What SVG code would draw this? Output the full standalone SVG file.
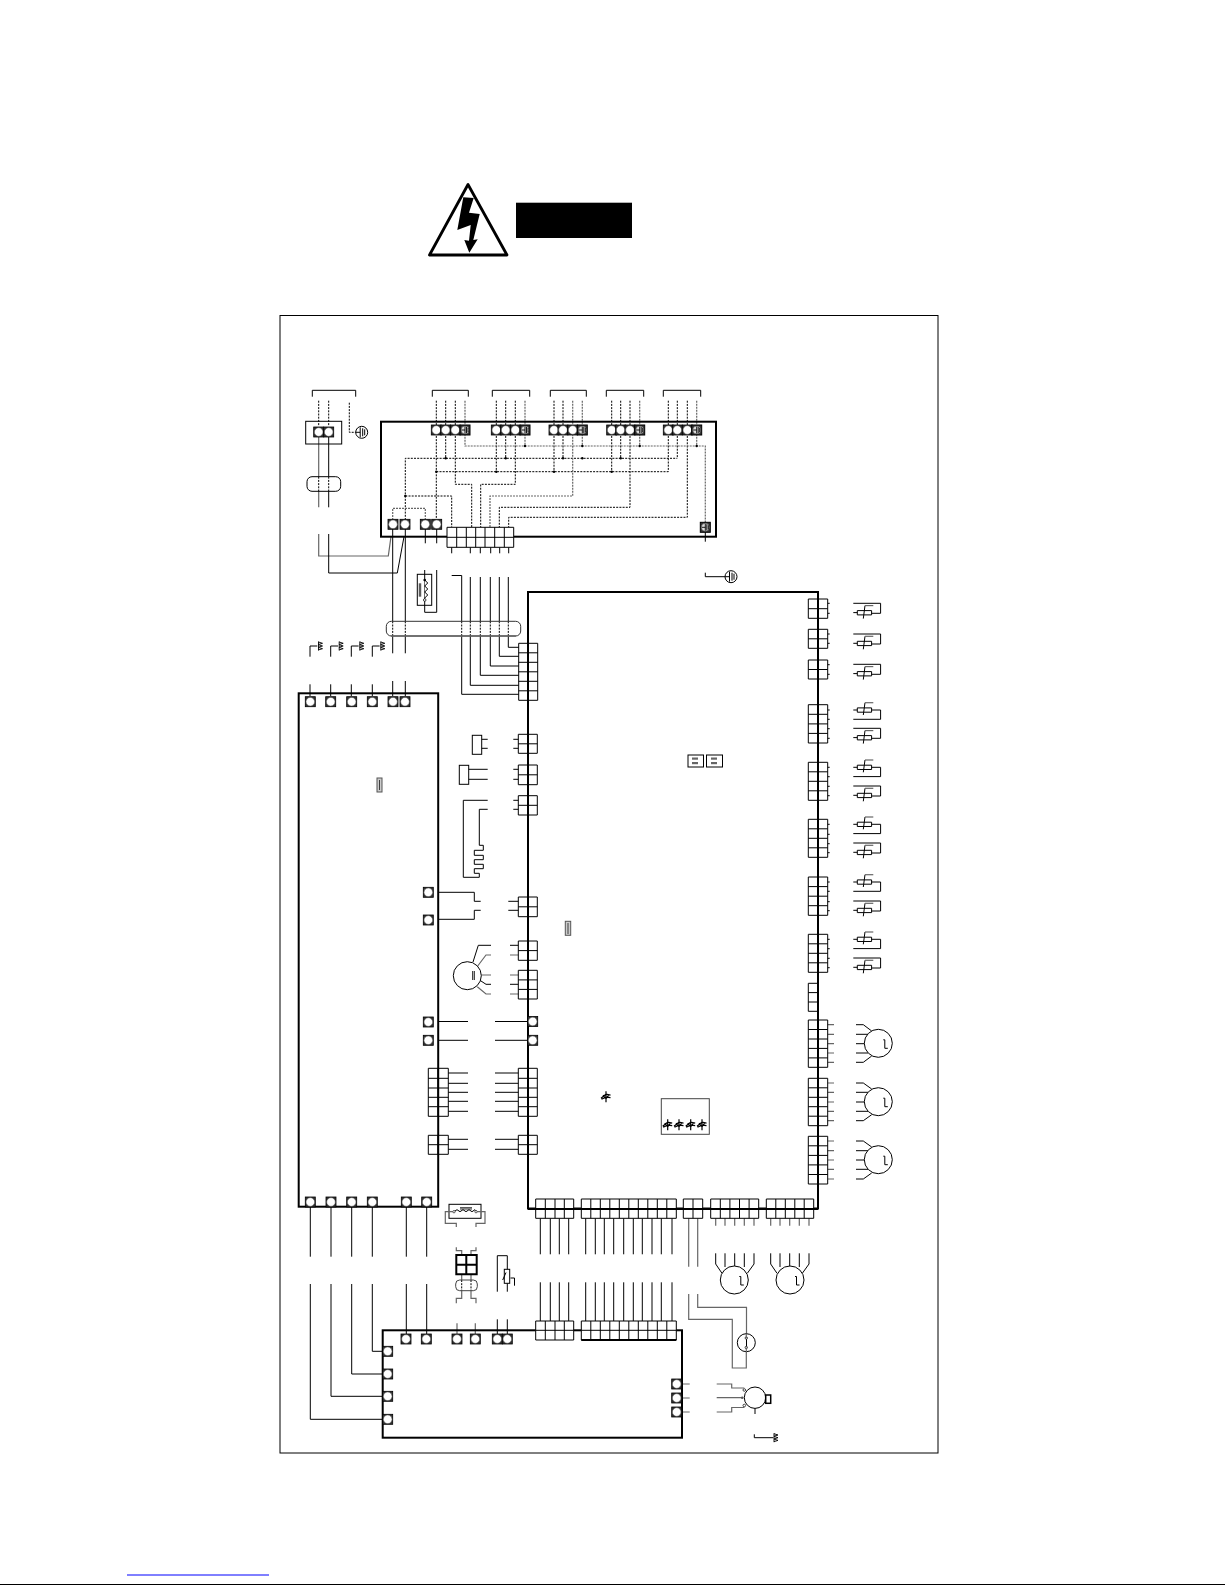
<svg xmlns="http://www.w3.org/2000/svg" width="1225" height="1585" viewBox="0 0 1225 1585">
<style>
.l{fill:none;stroke:#000;stroke-width:1}
.g{fill:none;stroke:#666;stroke-width:1.2}
.b{fill:none;stroke:#000;stroke-width:2}
.d{fill:none;stroke:#000;stroke-width:1;stroke-dasharray:2 1.2}
.dg{fill:none;stroke:#666;stroke-width:1.2;stroke-dasharray:2 1}
</style>
<defs>
<g id="t"><rect x="-5" y="-5" width="10" height="10" fill="#333" stroke="#000" stroke-width=".8"/><circle r="4.3" fill="#fff" stroke="#555" stroke-width=".5"/></g>
<g id="e"><rect x="-5" y="-5" width="10" height="10" fill="#333" stroke="#000" stroke-width="1"/><circle r="4" fill="#ddd" stroke="#333" stroke-width=".5"/><path d="M-3.500 0H0M0-3.500V3.500M1.500-3V3M3-2V2" stroke="#000" stroke-width=".9"/></g>
<g id="ea"><circle r="6" fill="#fff" stroke="#000" stroke-width="1"/><path d="M-6 0H-1.500M-1.500-5V5M1-4V4M3-3V3" class="l"/></g>
<path id="gnd" d="M0-4.500V4.500M0-4l4 1.300-4 1.200M0-1.300l4 1.300-4 1.200M0 1.400l4 1.300-4 1.200" fill="none" stroke="#000" stroke-width=".9"/>
<path id="st" d="M0-5.500V5.500M-5 1.500L0-2.500 4.500-1.500M-4.500 2.500L0 .5 4.500 1M-3-1.500L0 2 3-2" fill="none" stroke="#000" stroke-width="1.200"/>
<g id="m"><circle r="14" fill="#fff" stroke="#000" stroke-width="1"/><path d="M5-3.500h1.500v8.500h3" class="l"/></g>
<g id="ta"><path d="M0 0H27.300V10H18.300M0 9.300H4M4 7.300h14.300v4.300H4zM10 15.300L11.700 2.300" class="l"/><path d="M11.700 2.300H20" class="g"/></g>
<g id="tb"><path d="M0 0H4M4-2.100h14.300v4.300H4zM18.300 0H27.300V9.300H0M10 5L11.700-7.300" class="l"/><path d="M11.700-7.300H20" class="g"/></g>
</defs>
<rect width="1225" height="1585" fill="#fff"/>

<g id="warning">
<path d="M468 184.500L429.500 255H507Z" fill="#fff" stroke="#000" stroke-width="2.800" stroke-linejoin="round"/>
<path d="M463.300 197.300L473.700 198 469 212.700 479.700 214 473.300 240 477.700 239.300 469.300 252.700 464.300 240 469 240.700 470.700 225 457.300 230Z" fill="#000"/>
<rect x="516" y="202.700" width="116" height="35.300" fill="#000"/>
</g>
<rect id="frame" x="280" y="315.500" width="658" height="1137.500" class="l"/>

<g id="connectors">
<path d="M312.300 396.700V390.300H355.700V396.700M432.300 396.700V390.300H468.300V396.700M492.300 396.700V390.300H529.700V396.700M550.300 396.700V390.300H586.300V396.700M606.300 396.700V390.300H643.700V396.700M663.300 396.700V390.300H700.700V396.700" class="l"/>
<path d="M318.700 400.700V426M328.700 400.700V426M349.300 402.700V432.300H356" class="d"/>
<path d="M436.300 400.700V519M445.700 400.700V458.300M455.300 400.700V484.300H471.700V527.300M496.300 400.700V471.700M505.700 400.700V458.300M515.300 400.700V484.300H480.700V527.300M554 400.700V471.700M563 400.700V458.300M611.700 400.700V471.700M620.700 400.700V458.300M630 400.700V507.300H499.300V527.300M668.300 400.700V471.700M677.300 400.700V458.300M687.300 400.700V517.300H508.700V527.300M405.300 520V458.300H677.300M436.300 471.700H668.300M405.300 496H451.700V527.300" class="d"/>
<path d="M465 400.700V446H705.300V522.700M525 400.700V446M582.300 400.700V446M639.700 400.700V446M696.700 400.700V446M572.700 400.700V496H490V527.300M392.700 520V508.300H425.300V520" class="dg"/>
<g fill="#000"><circle cx="445.700" cy="458.300" r="1.200"/><circle cx="505.700" cy="458.300" r="1.200"/><circle cx="563" cy="458.300" r="1.200"/><circle cx="582.300" cy="458.300" r="1.200"/><circle cx="620.700" cy="458.300" r="1.200"/><circle cx="436.300" cy="471.700" r="1.200"/><circle cx="496.300" cy="471.700" r="1.200"/><circle cx="554" cy="471.700" r="1.200"/><circle cx="611.700" cy="471.700" r="1.200"/><circle cx="525" cy="446" r="1.200"/><circle cx="582.300" cy="446" r="1.200"/><circle cx="639.700" cy="446" r="1.200"/><circle cx="696.700" cy="446" r="1.200"/><circle cx="405.300" cy="496" r="1.200"/></g>

<path d="M318.700 437V476.700M318.700 491.300V507.300M318.700 534V556H388.300L391 536.700" class="g"/>
<path d="M328.700 437V476.700M328.700 491.300V507.300M328.700 534V573H397.300L404 536.700" class="l"/>
<path d="M318.700 476.700V491.300M328.700 476.700V491.300" class="d"/>
<path d="M392.700 529V621.300M392.700 636V653.300M392.700 681V696M405.300 529V621.300M405.300 636V653.300M405.300 681V696M425.300 529V543.300M436.700 529V543.300M705.300 532V541.700M705.300 572.700V576.700H725" class="l"/>
<path d="M451.700 547.300V553.300M470.300 547.300V553.300M480.300 547.300V553.300M490.700 547.300V553.300M499.700 547.300V553.300M508.700 547.300V553.300" class="l"/>
<path d="M451.700 575.500H461.700V621.300M461.700 636V694.300H518.700M470.300 577V621.300M470.300 636V685.300H518.700M480.300 577V621.300M480.300 636V675.300H518.700M490.300 577V621.300M490.300 636V666H518.700M499.300 577V621.300M499.300 636V656.300H518.700M508.300 577V621.300M508.300 636V647.300H518.700" class="l"/>
<path d="M392.700 621.300V636M405.300 621.300V636M461.700 621.300V636M470.300 621.300V636M480.300 621.300V636M490.300 621.300V636M499.300 621.300V636M508.300 621.300V636" class="d"/>
<path d="M310 656.700V646H317.300M330.700 656.700V646H338M351.300 656.700V646H358.600M372.300 656.700V646H379.600M310 684.300V696M330.700 684.300V696M351.300 684.300V696M372.300 684.300V696" class="l"/>

<path d="M513.300 739.300H518.300M513.300 748.300H518.300M481.700 739.300H487.700M481.700 748.300H487.700M513.300 769.300H518.300M513.300 779.300H518.300M468.700 769.300H487.700M468.700 779.300H487.700M513.300 800.300H518.300M513.300 809.300H518.300" class="l"/>
<path d="M487.700 800.300H463.300V877.300H479.300V873.300H474.300V868.700H483.300V864.300H474.300V859.700H483.300V855.300H474.300V850.300H483.300V845.300H479.300V809.300H487.700" class="l"/>
<path d="M438 892.300H474.300V901.300H480.700M438 919.300H474.300V910.300H480.700M508.300 901.300H518.300M508.300 910.300H518.300" class="l"/>
<path d="M491 945.300H478.300L473 962M491 984.300H486L479.500 980M510 945.300H518.300M510 984.300H518.300" class="l"/>
<path d="M491 955H486L477.700 966M491 975H481.300M491 994H486L477.300 986.700M510 955H518.300M510 975H518.300M510 994H518.300" class="g"/>

<path d="M438 1021.500H468M495 1021.500H528M438 1040.300H468M495 1040.300H528M448.300 1073H468M448.300 1083.300H468M448.300 1092.300H468M448.300 1101.300H468M448.300 1111.300H468M495 1073H518.300M495 1083.300H518.300M495 1092.300H518.300M495 1101.300H518.300M495 1111.300H518.300M448.300 1139.300H468M448.300 1149.300H468M495 1139.300H518.300M495 1149.300H518.300" class="l"/>

<path d="M827.700 603.300H829.700M827.700 613.300H829.700M827.700 634H829.700M827.700 643.300H829.700M827.700 664.700H829.700M827.700 674.300H829.700M827.700 710H829.700M827.700 719.300H829.700M827.700 728.700H829.700M827.700 738.300H829.700M827.700 767.300H829.700M827.700 776.700H829.700M827.700 786.300H829.700M827.700 795.700H829.700M827.700 824.300H829.700M827.700 834.300H829.700M827.700 843.700H829.700M827.700 852.700H829.700M827.700 882H829.700M827.700 891.300H829.700M827.700 901.700H829.700M827.700 910.700H829.700M827.700 939.300H829.700M827.700 948.700H829.700M827.700 958.300H829.700M827.700 967.700H829.700" class="l"/>
<path d="M827.700 1024.700H834M827.700 1034.300H834M827.700 1043.700H834M827.700 1053H834M827.700 1062.300H834M827.700 1083H834M827.700 1092.300H834M827.700 1102H834M827.700 1111.300H834M827.700 1120.700H834M827.700 1141H834M827.700 1150.700H834M827.700 1160H834M827.700 1169.300H834M827.700 1179H834" class="g"/>
<path d="M856 1024.700H863.300L871.700 1031M856 1034.300H868M856 1043.700H865M856 1053H868M856 1062.300H863.300L871.700 1056M856 1083H863.300L871.700 1089M856 1092.300H868M856 1102H865M856 1111.300H868M856 1120.700H863.300L871.700 1114.700M856 1141H863.300L871.700 1147M856 1150.700H868M856 1160H865M856 1169.300H868M856 1179H863.300L871.700 1173" class="l"/>

<path d="M540.300 1218.300V1254.300M550.300 1218.300V1254.300M559.300 1218.300V1254.300M568.700 1218.300V1254.300M585.700 1218.300V1254.300M595.300 1218.300V1254.300M604.300 1218.300V1254.300M613.700 1218.300V1254.300M623.700 1218.300V1254.300M633.300 1218.300V1254.300M642.300 1218.300V1254.300M652 1218.300V1254.300M661.300 1218.300V1254.300M672 1218.300V1254.300M540.300 1282.300V1321M550.300 1282.300V1321M559.300 1282.300V1321M568.700 1282.300V1321M585.700 1282.300V1321M595.300 1282.300V1321M604.300 1282.300V1321M613.700 1282.300V1321M623.700 1282.300V1321M633.300 1282.300V1321M642.300 1282.300V1321M652 1282.300V1321M661.300 1282.300V1321M672 1282.300V1321" class="l"/>
<path d="M688.700 1218.300V1266.700M697.700 1218.300V1266.700M688.700 1294V1319.300H732.300V1368H746.300V1352M697.700 1294V1307.300H746.500V1334" class="g"/>
<path d="M715.700 1218.300V1225.700M725 1218.300V1225.700M734.700 1218.300V1225.700M744.300 1218.300V1225.700M754 1218.300V1225.700M770.700 1218.300V1225.700M780 1218.300V1225.700M789.700 1218.300V1225.700M799.300 1218.300V1225.700M809 1218.300V1225.700" class="g"/>
<path d="M715.700 1253.300V1264L722 1273.300M725 1253.300V1267M734.700 1253.300V1266M744.300 1253.300V1267M754 1253.300V1264L747.300 1273.300M770.700 1253.300V1264L777 1273.300M780 1253.300V1267M789.700 1253.300V1266M799.300 1253.300V1267M809 1253.300V1264L802.300 1273.300" class="l"/>

<path d="M310.300 1206.700V1256.700M331 1206.700V1256.700M351.700 1206.700V1256.700M372.300 1206.700V1256.700M406.300 1206.700V1256.700M426.700 1206.700V1256.700" class="l"/>
<path d="M310.300 1284V1419.300H382.700M331 1284V1396.300H382.700M351.700 1284V1374H382.700M372.300 1284V1351.300H382.700M406.300 1284V1334M426.700 1284V1334" class="l"/>
<path d="M457 1323.300V1334M475.300 1323.300V1334" class="g"/>
<path d="M497.300 1319.300V1334M507.300 1319.300V1334" class="l"/>
<path d="M461.700 1255V1250.700H456.300V1247.300M471 1255V1250.700H476V1247.300M461.700 1274V1280M471 1274V1280" class="g"/>
<path d="M461.700 1280V1290.700M471 1280V1290.700" class="d"/>
<path d="M461.700 1290.700V1298.300H456.300V1303.300M471 1290.700V1298.300H476V1303.300" class="g"/>
<path d="M497.300 1291.700V1255.700H507.300V1269.300M507.300 1283.300V1291.700" class="l"/>
<path d="M682 1384H689.700M682 1398H689.700M682 1412H689.700" class="g"/>
<path d="M716.700 1384H731.700V1388H744.300M716.700 1397.700H742.300M716.700 1412H731.700V1407.500H744.300" class="g"/>
<path d="M755 1408V1414M754.300 1434.300V1437.700H773.300" class="l"/>
</g>

<g id="main-board"><rect x="528" y="592" width="290" height="616.500" class="b"/>
<rect x="565.300" y="921.300" width="5.400" height="14" fill="#ccc" stroke="#555"/><path d="M568 923V934" stroke="#000" stroke-width=".7"/>
<rect x="688" y="755" width="15.500" height="12" class="l"/><rect x="692" y="757.500" width="6" height="2.200" fill="#666"/><rect x="692" y="762" width="6" height="2.200" fill="#666"/>
<rect x="706.500" y="755" width="16" height="12" class="l"/><rect x="711" y="757.500" width="6" height="2.200" fill="#666"/><rect x="711" y="762" width="6" height="2.200" fill="#666"/>
<use href="#st" x="606" y="1096.700"/>
<rect x="661.300" y="1098.700" width="48" height="35.600" fill="none" stroke="#444"/>
<use href="#st" x="667.700" y="1124.700"/><use href="#st" x="679" y="1124.700"/><use href="#st" x="690.700" y="1124.700"/><use href="#st" x="702" y="1124.700"/>
<use href="#t" x="532.700" y="1021.500"/><use href="#t" x="532.700" y="1040.300"/>
</g>

<g id="left-board"><rect x="298.700" y="693.300" width="139.500" height="513.400" class="b"/>
<rect x="377" y="778" width="5" height="14" fill="#ccc" stroke="#555"/><path d="M379.500 780V790" stroke="#000" stroke-width=".7"/>
<use href="#t" x="310.300" y="701.700"/><use href="#t" x="330.700" y="701.700"/><use href="#t" x="351.700" y="701.700"/><use href="#t" x="372.300" y="701.700"/><use href="#t" x="393" y="701.700"/><use href="#t" x="405" y="701.700"/>
<use href="#t" x="428.300" y="892.300"/><use href="#t" x="428.300" y="920"/><use href="#t" x="428.300" y="1022"/><use href="#t" x="428.300" y="1040.300"/>
<use href="#t" x="310.300" y="1202"/><use href="#t" x="331" y="1202"/><use href="#t" x="351.700" y="1202"/><use href="#t" x="372.300" y="1202"/><use href="#t" x="406.300" y="1202"/><use href="#t" x="426.700" y="1202"/>
<path d="M428.300 1068.300h20v48h-20zM438 1068.300v48M428.300 1078.300h20M428.300 1088h20M428.300 1097.300h20M428.300 1106.700h20M428.300 1135.300h20v19h-20zM438 1135.300v19M428.300 1144.700h20" class="l"/>
</g>

<g id="top-board"><rect x="381" y="421.700" width="335" height="115" class="b"/>
<use href="#t" x="436.300" y="430"/><use href="#t" x="445.700" y="430"/><use href="#t" x="455.300" y="430"/><use href="#e" x="465" y="430"/>
<use href="#t" x="496.300" y="430"/><use href="#t" x="505.700" y="430"/><use href="#t" x="515.300" y="430"/><use href="#e" x="525" y="430"/>
<use href="#t" x="554" y="430"/><use href="#t" x="563" y="430"/><use href="#t" x="572.700" y="430"/><use href="#e" x="582.300" y="430"/>
<use href="#t" x="611.700" y="430"/><use href="#t" x="620.700" y="430"/><use href="#t" x="630" y="430"/><use href="#e" x="639.700" y="430"/>
<use href="#t" x="668.300" y="430"/><use href="#t" x="677.300" y="430"/><use href="#t" x="687.300" y="430"/><use href="#e" x="696.700" y="430"/>
<use href="#t" x="393" y="524.300"/><use href="#t" x="405" y="524.300"/><use href="#t" x="425.300" y="524.300"/><use href="#t" x="436.700" y="524.300"/><use href="#e" x="705.300" y="527.300"/>
<path d="M447 527.300h66.700v20H447zM447 537.300h66.700M456.700 527.300v20M466.300 527.300v20M475.700 527.300v20M485 527.300v20M494.700 527.300v20M504.300 527.300v20" fill="#fff" stroke="#000"/>
</g>

<g id="input-block"><rect x="305.700" y="421.300" width="36" height="22.700" class="l" stroke-width="1.600"/><use href="#t" x="318.700" y="432"/><use href="#t" x="328.700" y="432"/><use href="#ea" x="361.700" y="432.300"/>
<rect x="307" y="476.700" width="33.700" height="14.600" rx="5" class="l"/></g>
<g id="earth-top"><use href="#ea" x="731" y="576.700"/></g>
<g id="earths"><use href="#gnd" x="318.500" y="646"/><use href="#gnd" x="339.200" y="646"/><use href="#gnd" x="359.800" y="646"/><use href="#gnd" x="380.800" y="646"/><use href="#gnd" x="774" y="1437.700"/></g>
<g id="bundle"><rect x="386.300" y="621.300" width="134.400" height="14.700" rx="5" fill="none" stroke="#333"/><path d="M391 636H516" stroke="#666" stroke-width="1.300"/></g>
<g id="transformer-top"><rect x="417.300" y="574.300" width="14.400" height="31" class="l"/><path d="M424.700 570V612.300H436.700V570" class="l"/><path d="M419.300 583.300V596.700M420.700 583.300V596.700" stroke="#000" stroke-width=".8"/><path d="M424.700 580l3 3-3 3 3 3-3 3 3 3-3 3" fill="#fff" stroke="#000" stroke-width="1"/><circle cx="424.700" cy="580" r="1.300" fill="#000"/><circle cx="424.700" cy="600" r="1.300" fill="#fff" stroke="#000" stroke-width=".7"/></g>

<g id="left-connectors">
<path d="M518.700 643.300h19v57h-19zM518.700 652.800h19M518.700 662.300h19M518.700 671.800h19M518.700 681.300h19M518.700 690.800h19" class="l"/>
<path d="M518.300 734.300h19v19h-19zM518.300 743.800h19M518.300 765h19v19.700h-19zM518.300 774.800h19M518.300 795.700h19v19.300h-19zM518.300 805.300h19M518.300 897h19v19.700h-19zM518.300 906.800h19M518.300 941h19v19.300h-19zM518.300 950.600h19M518.300 970.300h19v28.700h-19zM518.300 979.900h19M518.300 989.400h19M518.300 1068.300h19v48h-19zM518.300 1078.300h19M518.300 1088h19M518.300 1097.300h19M518.300 1106.700h19M518.300 1135.300h19v19h-19zM518.300 1144.700h19" class="l"/>
</g>
<g id="sensors-left"><rect x="472.300" y="735.300" width="9.400" height="19" class="l"/><rect x="459.300" y="765.300" width="9.400" height="19" class="l"/></g>
<g id="motor-left"><circle cx="467.300" cy="975.700" r="14" fill="#fff" stroke="#000"/><path d="M472.700 971V980M474.300 971V980" stroke="#000" stroke-width=".9"/></g>

<g id="right-connectors">
<path d="M808.300 599h19.400v19.300h-19.400zM808.300 608.700h19.400M808.300 629.300h19.400v19h-19.400zM808.300 638.800h19.400M808.300 660h19.400v19h-19.400zM808.300 669.500h19.400" class="l"/>
<path d="M808.300 704.700h19.400v38.300h-19.400zM808.300 714.300h19.400M808.300 723.900h19.400M808.300 733.400h19.400M808.300 762.300h19.400v38h-19.400zM808.300 771.800h19.400M808.300 781.300h19.400M808.300 790.800h19.400M808.300 819.300h19.400v38h-19.400zM808.300 828.800h19.400M808.300 838.300h19.400M808.300 847.800h19.400M808.300 877h19.400v38.300h-19.400zM808.300 886.600h19.400M808.300 896.200h19.400M808.300 905.700h19.400M808.300 934.300h19.400v38h-19.400zM808.300 943.800h19.400M808.300 953.300h19.400M808.300 962.800h19.400" class="l"/>
<path d="M808.300 983.300h9.700v28h-9.700zM808.300 992.600h9.700M808.300 1002h9.700" class="l"/>
<path d="M808.300 1020h19.400v47.300h-19.400zM808.300 1029.500h19.400M808.300 1039h19.400M808.300 1048.400h19.400M808.300 1057.900h19.400M808.300 1078.300h19.400v47.400h-19.400zM808.300 1087.800h19.400M808.300 1097.300h19.400M808.300 1106.700h19.400M808.300 1116.200h19.400M808.300 1136.300h19.400v47.700h-19.400zM808.300 1145.800h19.400M808.300 1155.400h19.400M808.300 1164.900h19.400M808.300 1174.500h19.400" class="l"/>
</g>
<g id="right-sensors">
<use href="#ta" x="853.300" y="603.300"/><use href="#ta" x="853.300" y="634"/><use href="#ta" x="853.300" y="664.300"/><use href="#ta" x="853.300" y="728.300"/><use href="#ta" x="853.300" y="786"/><use href="#ta" x="853.300" y="843"/><use href="#ta" x="853.300" y="901"/><use href="#ta" x="853.300" y="958"/>
<use href="#tb" x="853.300" y="710"/><use href="#tb" x="853.300" y="767.300"/><use href="#tb" x="853.300" y="824.300"/><use href="#tb" x="853.300" y="882"/><use href="#tb" x="853.300" y="939.300"/>
</g>
<g id="motors"><use href="#m" x="878.300" y="1043.300"/><use href="#m" x="878.300" y="1101.700"/><use href="#m" x="878.300" y="1159.700"/><use href="#m" x="734.300" y="1280"/><use href="#m" x="790" y="1280"/></g>

<g id="bottom-connectors">
<path d="M535.700 1199h38v19.300h-38zM535.700 1209h38M545.300 1199v19.300M555 1199v19.300M564.300 1199v19.300" fill="#fff" stroke="#000"/>
<path d="M581.300 1199h95v19.300h-95zM581.300 1209h95M590.800 1199v19.300M600.300 1199v19.300M609.800 1199v19.300M619.300 1199v19.300M628.800 1199v19.300M638.300 1199v19.300M647.800 1199v19.300M657.300 1199v19.300M666.800 1199v19.300" fill="#fff" stroke="#000"/>
<path d="M683.300 1199h19.400v19.300h-19.400zM683.300 1209h19.400M693 1199v19.300" fill="#fff" stroke="#000"/>
<path d="M710.700 1199h48v19.300h-48zM710.700 1209h48M720.300 1199v19.300M729.900 1199v19.300M739.500 1199v19.300M749.100 1199v19.300" fill="#fff" stroke="#000"/>
<path d="M766.300 1199h47.400v19.300h-47.400zM766.300 1209h47.400M775.800 1199v19.300M785.300 1199v19.300M794.800 1199v19.300M804.200 1199v19.300" fill="#fff" stroke="#000"/>
<path d="M528 1209H818" class="b"/>
</g>

<g id="bottom-board"><rect x="382.700" y="1330.300" width="299.300" height="107.400" class="b" stroke-width="1.600"/>
<use href="#t" x="406" y="1339"/><use href="#t" x="426.300" y="1339"/><use href="#t" x="457" y="1339"/><use href="#t" x="475.300" y="1339"/><use href="#t" x="497.300" y="1339"/><use href="#t" x="507.300" y="1339"/>
<use href="#t" x="387.700" y="1351.300"/><use href="#t" x="387.700" y="1374"/><use href="#t" x="387.700" y="1396.300"/><use href="#t" x="387.700" y="1419.300"/>
<use href="#t" x="676.700" y="1384"/><use href="#t" x="676.700" y="1398"/><use href="#t" x="676.700" y="1412"/>
<path d="M535.700 1321h38v19h-38zM545.300 1321v19M555 1321v19M564.300 1321v19M535.700 1330.300h38" fill="#fff" stroke="#000"/>
<path d="M581.300 1321h95v19h-95zM581.300 1330.300h95M590.800 1321v19M600.300 1321v19M609.800 1321v19M619.300 1321v19M628.800 1321v19M638.300 1321v19M647.800 1321v19M657.300 1321v19M666.800 1321v19" fill="#fff" stroke="#000"/>
<path d="M581.300 1340h95" class="b" stroke-width="1.600"/>
</g>

<g id="transformer-bottom"><rect x="449" y="1204.300" width="32" height="14" class="l"/><path d="M460 1207.700H472M460 1209H472" stroke="#000" stroke-width=".8"/><path d="M454 1211.700l3-2 3 2 3-2 3 2 3-2 3 2 3-2 2 2" class="l"/><circle cx="454" cy="1211.700" r="1.200" fill="#fff" stroke="#000" stroke-width=".6"/><circle cx="476" cy="1211.700" r="1.200" fill="#fff" stroke="#000" stroke-width=".6"/>
<path d="M453 1211.700H445.300V1223.300H456.300V1227M477 1211.700H485V1223.300H476V1227" class="g"/></g>
<g id="connector-center"><path d="M456.300 1255h20.400v19.300h-20.400zM466.300 1255v19.300M456.300 1264.700h20.400" class="b" stroke-width="1.400"/><rect x="455.700" y="1280" width="21.600" height="10.700" rx="4" fill="none" stroke="#444"/></g>
<g id="thermistor"><rect x="504.300" y="1269.300" width="5.400" height="14" class="l"/><path d="M502.700 1280L506 1272.500M510.500 1278H514.500V1285.700" class="l"/></g>
<g id="switch"><circle cx="746.300" cy="1342.700" r="9" fill="#fff" stroke="#000"/><path d="M746.500 1338V1347" class="l"/><circle cx="746.300" cy="1338" r="1.200" fill="#fff" stroke="#000" stroke-width=".7"/><circle cx="746.300" cy="1347.500" r="1.200" fill="#fff" stroke="#000" stroke-width=".7"/><path d="M746.300 1333.700V1338M746.300 1347.500V1352" class="g"/></g>
<g id="compressor"><circle cx="755" cy="1397.700" r="10.700" fill="#fff" stroke="#000"/><rect x="765.700" y="1395" width="5" height="8.300" fill="#fff" stroke="#000" stroke-width="1.500"/><circle cx="744.300" cy="1390" r="1.300" fill="#fff" stroke="#000" stroke-width=".7"/><circle cx="742.300" cy="1397.700" r="1.300" fill="#555"/><circle cx="744.300" cy="1405.500" r="1.300" fill="#fff" stroke="#000" stroke-width=".7"/></g>
<path id="link-line" d="M127 1575H269" stroke="#00f" stroke-width="1"/>
<path id="page-line" d="M0 1584.500H1225" stroke="#000" stroke-width="1"/>
</svg>
